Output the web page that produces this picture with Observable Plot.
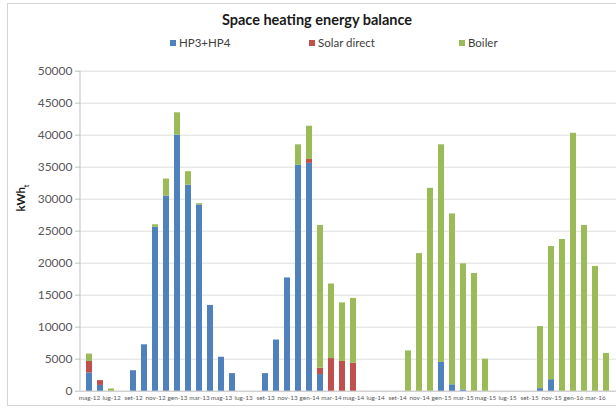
<!DOCTYPE html>
<html>
<head>
<meta charset="utf-8">
<script src="https://cdn.jsdelivr.net/npm/d3@7"></script>
<script src="https://cdn.jsdelivr.net/npm/@observablehq/plot@0.6"></script>
<style>
  html, body { margin: 0; padding: 0; background: #fff; width: 616px; height: 410px; overflow: hidden; font-family: Lato, "Open Sans", sans-serif; }
  #frame { position: absolute; left: 7px; top: 3px; width: 620px; height: 403px; border: 1px solid #d4d4d4; box-sizing: border-box; }
  #title { position: absolute; left: 0; top: 11px; width: 634px; text-align: center; font-weight: bold; font-size: 14.5px; color: #1a1a1a; }
  #legend { position: absolute; top: 36px; left: 0; width: 616px; height: 16px; font-size: 11.5px; color: #404040; }
  .lg { position: absolute; top: 0; white-space: nowrap; }
  .sw { display: inline-block; width: 6px; height: 6px; margin-right: 3px; vertical-align: 1px; }
  #ylab { position: absolute; left: 22px; top: 198px; transform: translate(-50%, -50%) rotate(-90deg); font-weight: bold; font-size: 11.5px; color: #1a1a1a; white-space: nowrap; }
  #ylab sub { font-size: 7px; }
  #chart { position: absolute; left: 0; top: 52px; }
</style>
</head>
<body>
<div id="frame"></div>
<div id="title">Space heating energy balance</div>
<div id="legend"></div>
<div id="ylab">kWh<sub>t</sub></div>
<div id="chart"></div>
<script>
const months = ["mag-12","giu-12","lug-12","ago-12","set-12","ott-12","nov-12","dic-12",
  "gen-13","feb-13","mar-13","apr-13","mag-13","giu-13","lug-13","ago-13","set-13","ott-13","nov-13","dic-13",
  "gen-14","feb-14","mar-14","apr-14","mag-14","giu-14","lug-14","ago-14","set-14","ott-14","nov-14","dic-14",
  "gen-15","feb-15","mar-15","apr-15","mag-15","giu-15","lug-15","ago-15","set-15","ott-15","nov-15","dic-15",
  "gen-16","feb-16","mar-16","apr-16"];
const hp = [2850, 900, 0, 0, 3200, 7250, 25600, 30500,
  40000, 32200, 29100, 13400, 5300, 2750, 0, 0, 2750, 8000, 17700, 35300,
  35600, 2600, 0, 0, 0, 0, 0, 0, 0, 0, 0, 0,
  4500, 1000, 200, 0, 0, 0, 0, 0, 0, 400, 1800, 0,
  0, 0, 0, 0];
const solar = [1800, 750, 0, 0, 0, 0, 0, 0,
  0, 0, 0, 0, 0, 0, 0, 0, 0, 0, 0, 0,
  600, 1000, 5100, 4650, 4400, 0, 0, 0, 0, 0, 0, 0,
  0, 0, 0, 0, 0, 0, 0, 0, 0, 0, 0, 0,
  0, 0, 0, 0];
const boiler = [1150, 0, 350, 0, 0, 0, 400, 2650,
  3500, 2100, 200, 0, 0, 0, 0, 0, 0, 0, 0, 3200,
  5200, 22300, 11650, 9150, 10100, 0, 0, 0, 0, 6300, 21500, 31700,
  34000, 26700, 19700, 18400, 5000, 0, 0, 0, 0, 9700, 20800, 23700,
  40300, 25900, 19500, 5900];
const seriesNames = ["HP3+HP4", "Solar direct", "Boiler"];
const seriesColors = ["#4f81bd", "#c0504d", "#9bbb59"];
const yTicks = [0, 5000, 10000, 15000, 20000, 25000, 30000, 35000, 40000, 45000, 50000];
const xTickLabels = months.filter((d, i) => i % 2 === 0);

// legend
const legendPos = [170, 309, 459];
const lg = document.getElementById("legend");
seriesNames.forEach((n, i) => {
  const s = document.createElement("span");
  s.className = "lg";
  s.style.left = legendPos[i] + "px";
  s.innerHTML = `<span class="sw" style="background:${seriesColors[i]}"></span>${n}`;
  lg.appendChild(s);
});

const data = [];
const sets = [hp, solar, boiler];
months.forEach((m, i) => {
  sets.forEach((arr, k) => {
    if (arr[i] > 0) data.push({month: m, series: seriesNames[k], value: arr[i]});
  });
});

const plot = Plot.plot({
  width: 616,
  height: 356,
  marginLeft: 80,
  marginRight: 0,
  marginTop: 18.7,
  marginBottom: 17.3,
  style: {fontFamily: "Lato, 'Open Sans', sans-serif", background: "transparent", overflow: "visible"},
  x: {type: "band", domain: months, paddingInner: 0.45, paddingOuter: 0.545},
  y: {domain: [0, 50000]},
  color: {domain: seriesNames, range: seriesColors},
  marks: [
    Plot.gridY(yTicks, {stroke: "#dedede", strokeOpacity: 1}),
    Plot.ruleY([0], {stroke: "#c8c8c8"}),
    Plot.barY(data, {x: "month", y: "value", fill: "series", order: seriesNames}),
    Plot.axisY(yTicks, {tickFormat: d => String(d), tickSize: 5, tickPadding: 3, fontSize: 12, color: "#595959", stroke: "#bfbfbf", label: null}),
    Plot.axisX(xTickLabels, {tickSize: 0, tickPadding: 4, fontSize: 6.4, color: "#595959", label: null})
  ]
});
document.getElementById("chart").appendChild(plot);
// vertical axis line
const xr = plot.scale("x").range;
const yr = plot.scale("y").range;
d3.select(plot).append("line")
  .attr("x1", xr[0]).attr("x2", xr[0])
  .attr("y1", yr[0]).attr("y2", yr[1])
  .attr("stroke", "#bfbfbf");
</script>
</body>
</html>
